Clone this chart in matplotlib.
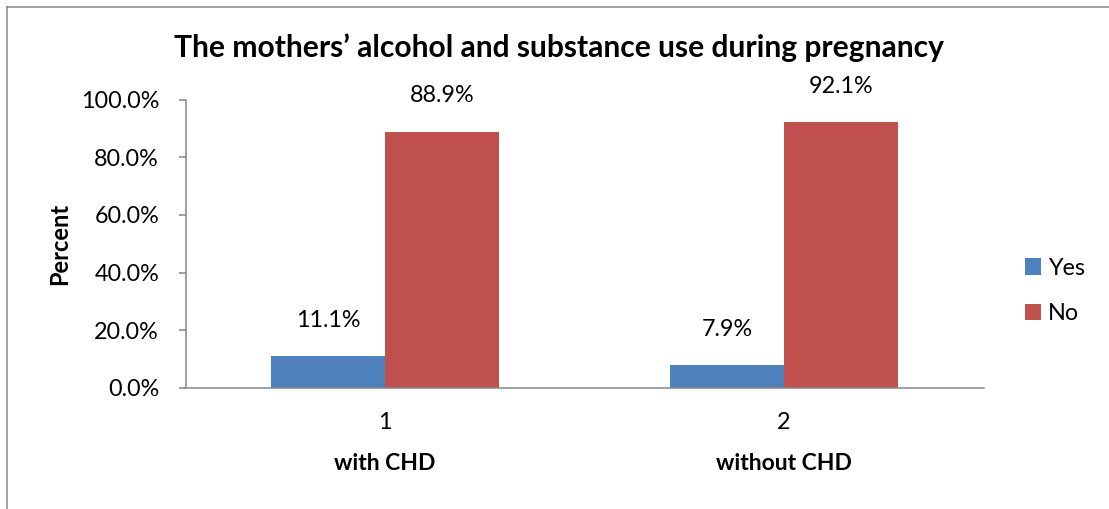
import matplotlib
matplotlib.use("Agg")
import matplotlib.pyplot as plt
from matplotlib.lines import Line2D
import matplotlib.transforms as mtransforms
import numpy as np

# data
groups = ["1", "2"]
group_names = ["with CHD", "without CHD"]
yes_pct = [11.1, 7.9]
no_pct = [88.9, 92.1]
y_ticks = [0, 20, 40, 60, 80, 100]

BLUE = "#4F81BD"
RED = "#C0504D"
GREY = "#868686"
FS = 16.8

plt.rcParams['font.family'] = ['Lato', 'DejaVu Sans']

fig = plt.figure(figsize=(11.09, 5.09), dpi=100)
W, H = 1109, 509
ax = fig.add_axes([185.5 / W, (H - 388) / H, (983.5 - 185.5) / W, (388 - 99.5) / H])

x = np.arange(len(groups))
bw = 0.286
b1 = ax.bar(x - bw / 2, yes_pct, bw, color=BLUE, label="Yes")
b2 = ax.bar(x + bw / 2, no_pct, bw, color=RED, label="No")

# value labels above the bars
for bars, vals in ((b1, yes_pct), (b2, no_pct)):
    for rect, v in zip(bars, vals):
        ax.annotate(f"{v:.1f}%", (rect.get_x() + rect.get_width() / 2, rect.get_height()),
                    xytext=(0, 21), textcoords="offset points",
                    ha="center", va="baseline", fontsize=FS)

ax.set_xlim(-0.5, 1.5)
ax.set_ylim(0, 100)
ax.set_yticks(y_ticks)
ax.set_yticklabels([f"{t:.1f}%" for t in y_ticks], fontsize=FS)
ax.set_xticks(x)
ax.set_xticklabels(groups, fontsize=FS)
ax.tick_params(axis="x", length=0, pad=17)
ax.tick_params(axis="y", length=5, width=1.1, color=GREY, pad=14, direction="out")

for s in ("top", "right"):
    ax.spines[s].set_visible(False)
for s in ("left", "bottom"):
    ax.spines[s].set_color(GREY)
    ax.spines[s].set_linewidth(1.1)

# category names under the tick numbers
trans = mtransforms.blended_transform_factory(ax.transData, fig.transFigure)
for xi, name in zip(x, group_names):
    ax.text(xi, (H - 463) / H, name, transform=trans,
            ha="center", va="center", fontsize=16.5, fontweight="bold")

fig.text(60 / W, 1 - 244 / H, "Percent", rotation=90, ha="center", va="center",
         fontsize=17, fontweight="bold")
fig.text(558.5 / W, 1 - 48 / H, "The mothers\u2019 alcohol and substance use during pregnancy",
         ha="center", va="center", fontsize=21.6, fontweight="bold")

fig.legend(handles=[b1, b2], labels=["Yes", "No"], loc="center left",
           bbox_to_anchor=(1004 / W, 1 - 291 / H), frameon=False, fontsize=FS,
           handlelength=0.7, handleheight=0.7, handletextpad=0.3, labelspacing=1.05)

# chart border (top and left edges are visible in the crop)
fig.add_artist(Line2D([7 / W, 1], [1 - 7 / H, 1 - 7 / H], transform=fig.transFigure,
                      color=GREY, lw=1.1))
fig.add_artist(Line2D([7 / W, 7 / W], [0, 1 - 7 / H], transform=fig.transFigure,
                      color=GREY, lw=1.1))

fig.savefig("out.png", dpi=100)
